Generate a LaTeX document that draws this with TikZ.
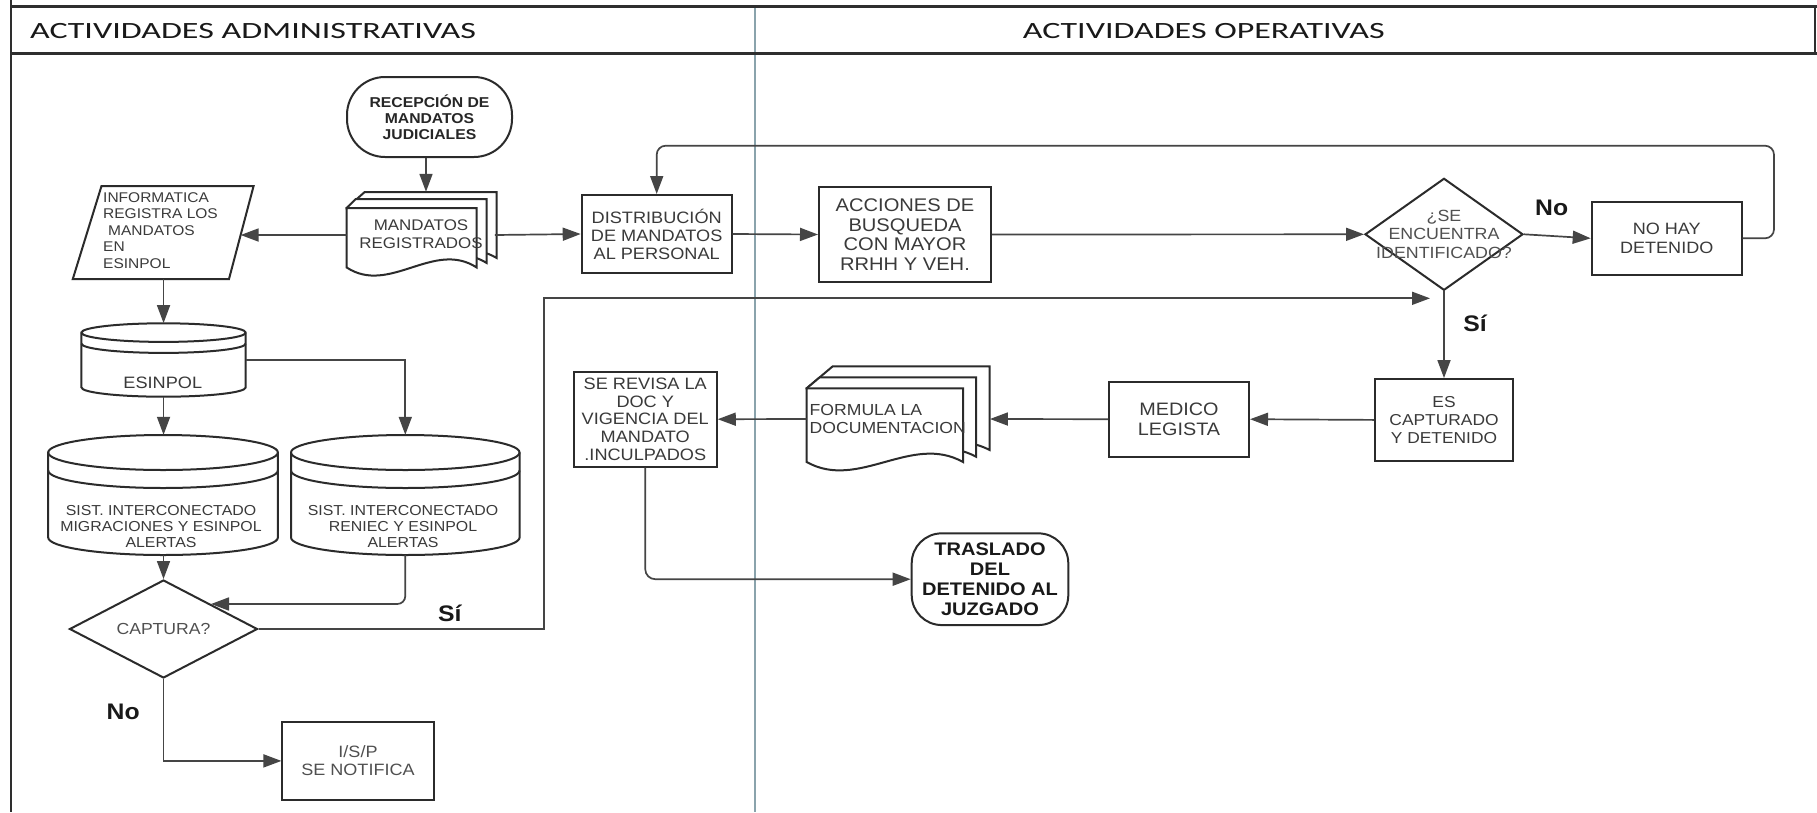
\documentclass[tikz,border=0pt]{standalone}
\usepackage{fontspec}
\usetikzlibrary{arrows.meta,shapes.geometric,calc}
\setmainfont{Liberation Sans}
\newfontfamily\hdrfont[FakeStretch=1.46]{Carlito}
\newfontfamily\boxfont[FakeStretch=1.1]{Liberation Sans}
\newcommand\setfs[2]{\fontsize{#1pt}{#2pt}\selectfont}

\definecolor{shapec}{HTML}{2B2B2B}
\definecolor{linec}{HTML}{454545}
\definecolor{txtc}{HTML}{3A3A3A}
\definecolor{txtlight}{HTML}{505050}
\definecolor{framec}{HTML}{2E2E2E}
\definecolor{lanec}{HTML}{8AA3AC}

% one sheet of a stacked-document symbol:
% #1,#2 = front top-left corner, #3..#6 = xl,xr,yt,yb of this sheet, #7 = wave depth
\newcommand\docpage[7]{%
  \draw[outline, fill=white] (#1,#2) -- (#3,#5) -- (#4,#5) -- (#4,#6)
    .. controls ({#4-0.33*(#4-#3)},{#6-#7}) and ({#3+0.33*(#4-#3)},{#6+#7}) .. (#3,#6) -- cycle;}

% database cylinder: #1 xl, #2 xr, #3 top, #4 bottom, #5 rim radius, #6 band offset
\newcommand\dbcyl[6]{%
  \pgfmathsetmacro\cylrx{(#2-#1)/2}%
  \draw[outline, fill=white] (#1,{#3+#5}) -- (#1,{#4-#5})
    arc[start angle=180, end angle=0, x radius=\cylrx, y radius=#5]
    -- (#2,{#3+#5})
    arc[start angle=0, end angle=-180, x radius=\cylrx, y radius=#5] -- cycle;
  \draw[outline] (#1,{#3+#5}) arc[start angle=180, end angle=0, x radius=\cylrx, y radius=#5];
  \draw[outline] (#1,{#3+#5+#6}) arc[start angle=180, end angle=0, x radius=\cylrx, y radius=#5];}

\tikzset{
  outline/.style={draw=shapec, line width=2pt},
  procbox/.style={outline, fill=white, rectangle, inner sep=0pt, align=center, text=txtc},
  decision/.style={outline, fill=white, diamond, inner sep=0pt},
  anchorbox/.style={rectangle, inner sep=0pt, draw=none},
  txt/.style={inner sep=0pt, align=center, text=txtc},
  hdr/.style={inner sep=0pt, text=black!90, font=\hdrfont\setfs{23.3}{28}},
  lbl/.style={inner sep=0pt, text=black!90, font=\boxfont\bfseries\setfs{22.5}{24}},
  conn/.style={draw=linec, line width=1.7pt, -{Triangle[length=18pt,width=13pt]}},
}

\begin{document}
\begin{tikzpicture}[x=1pt,y=-1pt]
\useasboundingbox (0,0) rectangle (1817,812);
\fill[white] (0,0) rectangle (1817,812);

% swimlane frame
\draw[lanec, line width=1.5pt] (755,6.7) -- (755,812);
\draw[framec, line width=2.6pt] (11,6.7) -- (1817,6.7);
\draw[framec, line width=2.6pt] (11,53.3) -- (1817,53.3);
\draw[framec, line width=2.6pt] (11,0) -- (11,812);
\draw[framec, line width=2pt] (1815,6.7) -- (1815,53.3);
\node[hdr, anchor=west] (hdrA) at (30,30.8) {ACTIVIDADES ADMINISTRATIVAS};
\node[hdr] (hdrB) at (1203.8,30.8) {ACTIVIDADES OPERATIVAS};

% start terminal
\node[procbox, rounded corners=38pt, minimum width=165pt, minimum height=80pt,
      text=black!85, font=\boxfont\bfseries\setfs{14.3}{16}] (recep) at (429.5,117)
      {RECEPCIÓN DE\\MANDATOS\\JUDICIALES};

% registered warrants (stacked documents)
\docpage{346.7}{208}{364.7}{496.7}{192}{258}{26}
\docpage{346.7}{208}{355.7}{486.7}{199}{263}{27}
\docpage{346.7}{208}{346.7}{476.7}{208}{267.5}{28}
\node[anchorbox, minimum width=148pt, minimum height=86pt] (mandR) at (420.7,235) {};
\node[txt, font=\boxfont\setfs{15.4}{18}] (mandRtxt) at (421,234) {MANDATOS\\REGISTRADOS};

% data entry (parallelogram)
\coordinate (infoTL) at (101.5,186);
\coordinate (infoTR) at (253.6,186);
\coordinate (infoBR) at (229,279);
\coordinate (infoBL) at (72.8,279);
\draw[outline, fill=white] (infoTL) -- (infoTR) -- (infoBR) -- (infoBL) -- cycle;
\node[anchorbox, minimum width=180.8pt, minimum height=93pt] (info) at (163.2,232.5) {};
\coordinate (infoR) at ($(infoTR)!0.527!(infoBR)$);
\node[txt, align=left, anchor=west, font=\boxfont\setfs{14.1}{16.5}] (infotxt) at (103,230.6)
      {INFORMATICA\\REGISTRA LOS\\\hspace*{5pt}MANDATOS\\EN\\ESINPOL};

% process boxes, top row
\node[procbox, minimum width=150pt, minimum height=78pt, font=\boxfont\setfs{16.5}{18}]
      (distr) at (656.7,234) {DISTRIBUCIÓN\\DE MANDATOS\\AL PERSONAL};
\node[procbox, minimum width=172pt, minimum height=95pt, font=\boxfont\setfs{18.3}{19.5}]
      (accion) at (905,234.5) {ACCIONES DE\\BUSQUEDA\\CON MAYOR\\RRHH Y VEH.};
\node[decision, minimum width=158pt, minimum height=112pt,
      label={[txt, text=txtlight, font=\boxfont\setfs{16.2}{18.3}]center:{¿SE\\ENCUENTRA\\IDENTIFICADO?}}]
      (diam) at (1444,234.3) {};
\node[procbox, minimum width=150pt, minimum height=73.3pt, font=\boxfont\setfs{16.4}{18.3}]
      (nohay) at (1666.7,238.3) {NO HAY\\DETENIDO};

% process boxes, second row
\node[procbox, minimum width=138pt, minimum height=81.7pt, font=\boxfont\setfs{15.8}{18.3}]
      (escap) at (1444,419.9) {ES\\CAPTURADO\\Y DETENIDO};
\node[procbox, minimum width=140pt, minimum height=75pt, font=\boxfont\setfs{18}{19.3}]
      (medico) at (1179,419.2) {MEDICO\\LEGISTA};

\docpage{806.7}{388.3}{832.7}{989.7}{366.3}{450}{27}
\docpage{806.7}{388.3}{819.7}{976}{377.3}{456.7}{28}
\docpage{806.7}{388.3}{806.7}{963}{388.3}{462}{29}
\node[anchorbox, minimum width=183pt, minimum height=105pt] (formula) at (898.2,419) {};
\node[txt, align=left, anchor=west, font=\boxfont\setfs{16}{18.3}] (formulatxt) at (809.5,419.2)
      {FORMULA LA\\DOCUMENTACION};

\node[procbox, minimum width=143pt, minimum height=95pt, font=\boxfont\setfs{16.5}{17.7}]
      (serevisa) at (645.25,419.2) {SE REVISA LA\\DOC Y\\VIGENCIA DEL\\MANDATO\\.INCULPADOS};

\node[procbox, rounded corners=30pt, minimum width=156.6pt, minimum height=91.7pt,
      text=black!90, font=\boxfont\bfseries\setfs{18.2}{20.3}] (traslado) at (990,579.2)
      {TRASLADO\\DEL\\DETENIDO AL\\JUZGADO};

% databases
\dbcyl{81.4}{245.7}{323.3}{396.7}{9.3}{11}
\node[anchorbox, minimum width=164.3pt, minimum height=73.4pt] (esin) at (163.55,360) {};
\node[txt, font=\boxfont\setfs{16.5}{18}] (esintxt) at (162.8,383.3) {ESINPOL};

\dbcyl{48.2}{277.9}{435}{555}{17.5}{18}
\node[anchorbox, minimum width=229.7pt, minimum height=120pt] (mig) at (163.05,495) {};
\node[txt, font=\boxfont\setfs{14.45}{16.3}] (migtxt) at (161,526.5)
      {SIST. INTERCONECTADO\\MIGRACIONES Y ESINPOL\\ALERTAS};

\dbcyl{291}{519.6}{435}{555}{17.5}{18}
\node[anchorbox, minimum width=228.6pt, minimum height=120pt] (ren) at (405.3,495) {};
\node[txt, font=\boxfont\setfs{14.45}{16.3}] (rentxt) at (403,526.5)
      {SIST. INTERCONECTADO\\RENIEC Y ESINPOL\\ALERTAS};

% capture decision and notification
\node[decision, minimum width=188pt, minimum height=98pt,
      label={[txt, text=txtlight, font=\boxfont\setfs{16}{18}]center:CAPTURA?}]
      (capt) at (163.5,629) {};
\node[procbox, text=txtlight, minimum width=151.2pt, minimum height=78.3pt,
      font=\boxfont\setfs{16.4}{18.3}] (isp) at (358,760.9) {I/S/P\\SE NOTIFICA};

\coordinate (siEnd) at (1430,298.3);

% connectors
\draw[conn] (recep.south -| 426,0) -- (mandR.north -| 426,0);
\draw[conn] (mandR.west) -- (infoR);
\draw[conn] (mandR.east) -- (distr.west);
\draw[conn] (distr.east) -- (accion.west);
\draw[conn] (accion.east) -- (diam.west);
\draw[conn] (diam.east) -- (nohay.west);
\draw[conn, rounded corners=9pt] (nohay.east) -- ++(31.3,0) |- ($(distr.north)+(0,-48.3)$) -- (distr.north);
\draw[conn] (diam.south) -- (escap.north);
\draw[conn] (escap.west) -- (medico.east);
\draw[conn] (medico.west) -- (formula.east);
\draw[conn] (formula.west) -- (serevisa.east);
\draw[conn, rounded corners=10pt] (serevisa.south) |- (traslado.west);
\draw[conn] (info.south -| esin.north) -- (esin.north);
\draw[conn] (esin.east) -| (ren.north);
\draw[conn] (esin.south) -- (esin.south |- mig.north);
\draw[conn] (capt.north |- mig.south) -- (capt.north);
\draw[conn, rounded corners=8pt] (ren.south) |- (capt.north east);
\draw[conn] (capt.east) -- ++(285.2,0) |- (siEnd);
\draw[conn] (capt.south) |- (isp.west);

% branch labels
\node[lbl] (noA) at (1551.7,208.3) {No};
\node[lbl] (siA) at (1475,323.3) {Sí};
\node[lbl] (siB) at (449.7,613.3) {Sí};
\node[lbl] (noB) at (123.2,711.7) {No};
\end{tikzpicture}
\end{document}
